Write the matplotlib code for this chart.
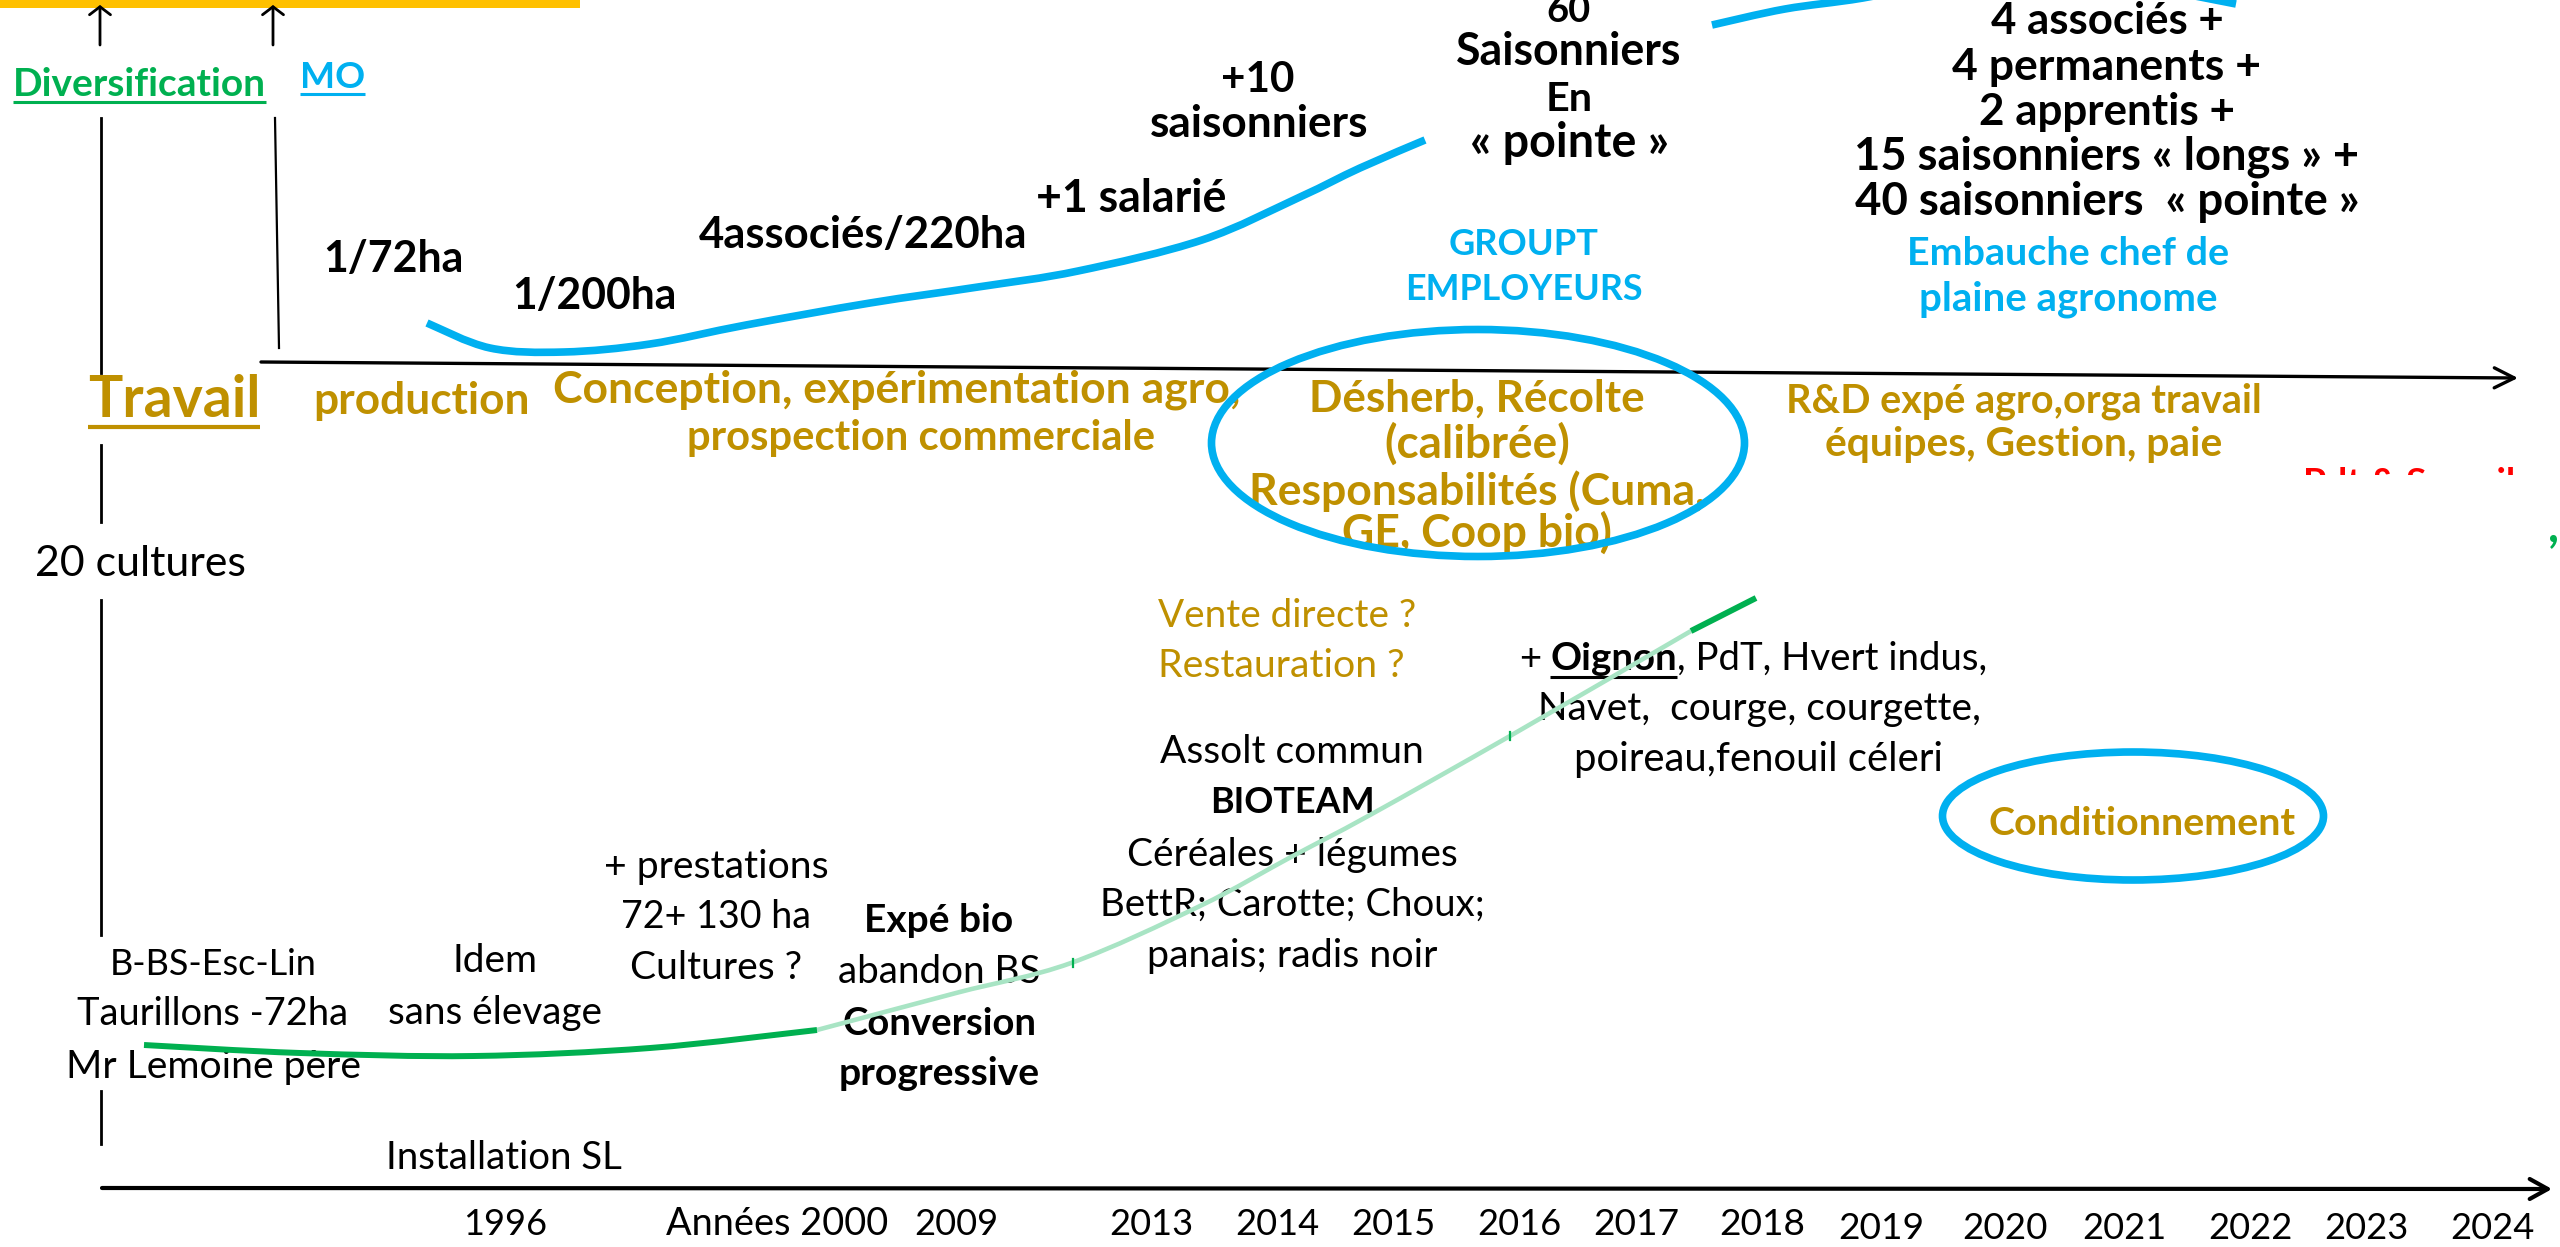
import numpy as np
import matplotlib
matplotlib.use("Agg")
import matplotlib.pyplot as plt
from matplotlib.path import Path
from matplotlib.patches import PathPatch, Ellipse, Rectangle

W, H = 2560, 1247
FONT = ["Lato", "DejaVu Sans"]
BLACK = "#000000"
BLUE = "#00B0F0"
GREEN = "#00B050"
LIGHTGREEN = "#A8E4C4"
GOLD = "#BF9000"
YELLOW = "#FFC000"
RED = "#FF0000"

# ---------------- data (texts) ----------------
year_labels = ["1996", "Années 2000", "2009", "2013", "2014", "2015", "2016", "2017",
               "2018", "2019", "2020", "2021", "2022", "2023", "2024"]
mo_labels = ["1/72ha", "1/200ha", "4associés/220ha", "+1 salarié", "+10", "saisonniers"]
pointe_labels = ["60", "Saisonniers", "En", "« pointe »"]
team_labels = ["4 associés +", "4 permanents +", "2 apprentis +",
               "15 saisonniers « longs » +", "40 saisonniers  « pointe »"]
groupt_labels = ["GROUPT", "EMPLOYEURS"]
chef_labels = ["Embauche chef de", "plaine agronome"]
travail_labels = ["production", "Conception, expérimentation agro,", "prospection commerciale"]
circle_labels = ["Désherb, Récolte", "(calibrée)", "Responsabilités (Cuma,", "GE, Coop bio)"]
rd_labels = ["R&D expé agro,orga travail", "équipes, Gestion, paie"]
vente_labels = ["Vente directe ?", "Restauration ?"]
oignon_parts = ["+", "Oignon", ", PdT, Hvert indus,"]
legumes_labels = ["Navet,  courge, courgette,", "poireau,fenouil céleri"]
bioteam_labels = ["Assolt commun", "BIOTEAM", "Céréales + légumes",
                  "BettR; Carotte; Choux;", "panais; radis noir"]
bioteam_bold = [False, True, False, False, False]
origin_labels = ["B-BS-Esc-Lin", "Taurillons -72ha", "Mr Lemoine père"]
idem_labels = ["Idem", "sans élevage"]
presta_labels = ["+ prestations", "72+ 130 ha", "Cultures ?"]
bio_labels = ["Expé bio", "abandon BS", "Conversion", "progressive"]
bio_bold = [True, False, True, True]

# ---------------- layout (positions / sizes) ----------------
year_x = [505, 777, 956, 1151, 1277, 1393, 1519, 1636, 1762, 1881, 2005, 2124, 2250, 2366, 2492]
year_base = [1235] * 9 + [1239] * 6
year_w = [84, 222, 84, 84, 84, 84, 84, 86, 86, 86, 85, 84, 84, 84, 84]

mo_x = [393, 594, 863, 1131, 1258, 1259]
mo_base = [272, 309, 248, 212, 92, 137]
mo_w = [140, 164, 328, 190, 73, 218]

pointe_base = [22, 65, 111, 157]
pointe_w = [44, 225, 47, 199]

team_base = [34, 80, 125, 170, 215]
team_w = [232, 308, 256, 504, 504]

# curves (shape points)
mo_curve = [(427, 323), (490, 348), (564, 352), (650, 344), (746, 325), (870, 303),
            (978, 287), (1078, 271), (1202, 240), (1300, 197), (1360, 168), (1425, 140)]
mo_arc = [(1712, 25), (1785, 9), (1863, -2), (1970, -22), (2110, -18), (2236, 4)]
div_dark1 = [(144, 1045), (300, 1053), (474, 1056), (650, 1048), (817, 1030)]
div_light = [(817, 1030), (956, 993), (1071, 963), (1200, 906), (1291, 857),
             (1370, 815), (1510, 736), (1691, 631)]
div_dark2 = [(1691, 631), (1756, 598)]

fig = plt.figure(figsize=(W / 100, H / 100), dpi=100)
ax = fig.add_axes([0, 0, 1, 1])
ax.set_xlim(0, W)
ax.set_ylim(H, 0)
ax.axis("off")
R = fig.canvas.get_renderer()


def fit_text(s, x, y, w, color=BLACK, bold=False, ha="center", z=3, size=None):
    t = ax.text(x, y, s, fontsize=30, color=color,
                fontweight="bold" if bold else "normal",
                ha=ha, va="baseline", family=FONT, zorder=z)
    if size is not None:
        t.set_fontsize(size)
        return t
    bb = t.get_window_extent(renderer=R)
    t.set_fontsize(30 * w / bb.width)
    return t


def underline(t, offset, lw):
    bb = t.get_window_extent(renderer=R)
    y = t.get_position()[1] + offset
    ax.plot([bb.x0, bb.x1], [y, y], color=t.get_color(), lw=lw,
            solid_capstyle="butt", zorder=3)


def smooth(pts):
    P = np.asarray(pts, float)
    n = len(P)
    verts = [P[0]]
    codes = [Path.MOVETO]
    for i in range(n - 1):
        p0 = P[i - 1] if i > 0 else P[i]
        p1, p2 = P[i], P[i + 1]
        p3 = P[i + 2] if i + 2 < n else P[i + 1]
        verts += [p1 + (p2 - p0) / 6, p2 - (p3 - p1) / 6, p2]
        codes += [Path.CURVE4] * 3
    return Path(verts, codes)


def curve(pts, color, lw, z=4):
    ax.add_patch(PathPatch(smooth(pts), fill=False, ec=color, lw=lw,
                           capstyle="butt", zorder=z))


def arrow(p0, p1, lw, hl_px, hw_px):
    ax.annotate("", xy=p1, xytext=p0,
                arrowprops=dict(arrowstyle=f"->,head_length={hl_px*0.072:.3f},head_width={hw_px*0.072:.3f}",
                                lw=lw, color=BLACK, shrinkA=0, shrinkB=0,
                                mutation_scale=10), zorder=2)


# ---------------- frame elements ----------------
ax.add_patch(Rectangle((0, 0), 580, 8, color=YELLOW, lw=0, zorder=2))

# up arrows
arrow((100, 45), (100, 5), 2.0, 8, 10.5)
arrow((273, 45), (273, 5), 2.0, 8, 10.5)

# vertical guide lines
for y0, y1 in [(118, 373), (445, 522), (600, 935), (1091, 1144)]:
    ax.plot([101, 101], [y0, y1], color=BLACK, lw=2.0, zorder=2)
ax.plot([275, 279], [118, 348], color=BLACK, lw=1.6, zorder=2)

# Travail axis and time axis
arrow((261, 362), (2518, 378), 2.4, 20, 10)
arrow((102, 1188), (2552, 1189), 3.0, 18, 10)

# ---------------- curves ----------------
curve(mo_curve, BLUE, 5.5)
curve(mo_arc, BLUE, 5.5)
curve(div_light, LIGHTGREEN, 3.3)
curve(div_dark1, GREEN, 4.3)
curve(div_dark2, GREEN, 4.3)
for (tx, ty) in [(1073, 963), (1510, 736)]:
    ax.plot([tx, tx], [ty - 4, ty + 4], color=GREEN, lw=1.6, zorder=4)

ax.add_patch(Ellipse((1478, 443), 533, 227, fill=False, ec=BLUE, lw=5.5, zorder=5))
ax.add_patch(Ellipse((2133, 816), 381, 128, fill=False, ec=BLUE, lw=5.5, zorder=5))

# ---------------- texts ----------------
t = fit_text("Diversification", 139, 96, 253, GREEN, True)
underline(t, 6, 2.2)
t = fit_text("MO", 300, 88, 65, BLUE, True, ha="left")
underline(t, 6, 2.2)

for s, x, b, w in zip(mo_labels, mo_x, mo_base, mo_w):
    fit_text(s, x, b, w, BLACK, True)
for s, b, w in zip(pointe_labels, pointe_base, pointe_w):
    fit_text(s, 1569, b, w, BLACK, True)
for s, b, w in zip(team_labels, team_base, team_w):
    fit_text(s, 2107, b, w, BLACK, True)
for s, b, w in zip(groupt_labels, [255, 300], [150, 238]):
    fit_text(s, 1524, b, w, BLUE, True)
for s, b, w in zip(chef_labels, [265, 310], [322, 297]):
    fit_text(s, 2068, b, w, BLUE, True)

t = fit_text("Travail", 174, 417, 172, GOLD, True)
underline(t, 10, 3.0)
for s, x, b, w in zip(travail_labels, [422, 897, 921], [414, 402, 450], [216, 686, 468]):
    fit_text(s, x, b, w, GOLD, True)
for s, b, w in zip(circle_labels, [412, 458, 505, 547], [336, 186, 456, 270]):
    fit_text(s, 1477, b, w, GOLD, True)
for s, b, w in zip(rd_labels, [412, 456], [475, 396]):
    fit_text(s, 2024, b, w, GOLD, True)

# clipped red label at the right edge
red = fit_text("Pdt & Semail", 2303, 494, 212, RED, True, ha="left")
red.set_clip_path(Rectangle((2280, 440), 280, 35, transform=ax.transData))
red.set_clip_on(True)
fit_text(",", 2548, 541, 8, GREEN, True, ha="left", size=34)

fit_text("20 cultures", 140, 576, 211, BLACK, False)
for s, b, w in zip(vente_labels, [627, 677], [257, 247]):
    fit_text(s, 1158, b, w, GOLD, False, ha="left")

# mixed-style line
probe = [ax.text(0, 0, s, fontsize=30, family=FONT, fontweight=("bold" if i == 1 else "normal"))
         for i, s in enumerate(oignon_parts)]
tot = sum(p.get_window_extent(renderer=R).width for p in probe)
for p in probe:
    p.remove()
osz = 30 * (470 - 12) / tot
for i, (s, x) in enumerate(zip(oignon_parts, [1519, 1550, 1677])):
    tt = fit_text(s, x, 670, 0, BLACK, i == 1, ha="left", size=osz)
    if i == 1:
        underline(tt, 7, 2.2)
for s, b, w in zip(legumes_labels, [720, 771], [442, 368]):
    fit_text(s, 1759, b, w, BLACK, False)

fit_text("Conditionnement", 2142, 835, 307, GOLD, True)

for s, b, w, bo in zip(bioteam_labels, [763, 813, 866, 916, 967], [264, 165, 331, 384, 291], bioteam_bold):
    fit_text(s, 1292, b, w, BLACK, bo)
for s, b, w in zip(origin_labels, [975, 1025, 1078], [207, 271, 295]):
    fit_text(s, 213, b, w, BLACK, False)
for s, b, w in zip(idem_labels, [972, 1024], [85, 214]):
    fit_text(s, 495, b, w, BLACK, False)
for s, b, w in zip(presta_labels, [878, 928, 979], [224, 190, 172]):
    fit_text(s, 716, b, w, BLACK, False)
for s, b, w, bo in zip(bio_labels, [932, 983, 1035, 1085], [149, 202, 194, 201], bio_bold):
    fit_text(s, 939, b, w, BLACK, bo)
fit_text("Installation SL", 504, 1169, 235, BLACK, False)

for s, x, b, w in zip(year_labels, year_x, year_base, year_w):
    fit_text(s, x, b, w, BLACK, False)

fig.savefig("out.png", dpi=100, facecolor="white")
